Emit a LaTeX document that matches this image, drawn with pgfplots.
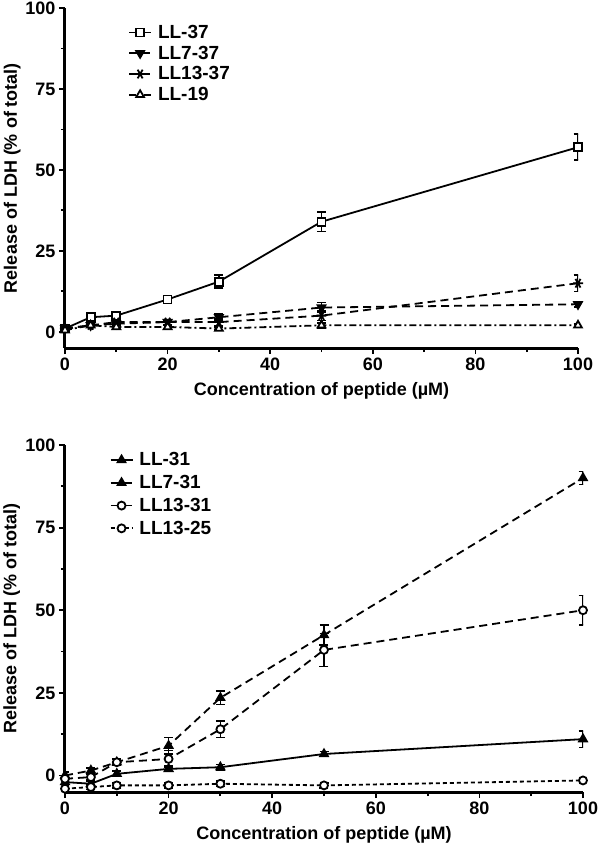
\documentclass[border=0pt]{standalone}
\usepackage{fontspec}
\setmainfont{Liberation Sans}
\usepackage{pgfplots}
\pgfplotsset{compat=1.18}
\begin{document}
\begin{tikzpicture}
\pgfplotsset{
  prism/.style={
    scale only axis,
    xmin=0, xmax=100, ymin=-5, ymax=100,
    axis x line*=bottom, axis y line*=left,
    axis line style={line width=3pt, -},
    tick align=outside,
    major tick length=6pt, minor tick length=4pt,
    tick style={line width=1.8pt, black},
    xtick={0,20,...,100}, minor xtick={10,30,50,70,90},
    ytick={0,25,50,75,100}, minor ytick={12.5,37.5,62.5,87.5},
    tick label style={font=\bfseries\fontsize{18}{18}\selectfont},
    /pgf/number format/assume math mode=true,
    every axis x label/.style={at={(axis description cs:0.5,0)}, anchor=center, yshift=-43pt,
      font=\bfseries\fontsize{18}{18}\selectfont},
    every axis y label/.style={at={(axis description cs:-0.103,0.5)}, anchor=center, rotate=90,
      font=\bfseries\fontsize{18}{18}\selectfont},
    xlabel={Concentration of peptide (µM)},
    ylabel={Release of LDH (\% of total)},
    legend style={draw=none, fill=none, font=\bfseries\fontsize{19}{19}\selectfont,
      row sep=2pt, column sep=4pt},
    legend cell align=left,
    legend image code/.code={\draw[mark repeat=2, mark phase=2] plot coordinates {(0pt,0pt) (11pt,0pt) (22pt,0pt)};},
    every axis plot/.append style={line width=1.8pt, black},
    error bars/y dir=both, error bars/y explicit,
    error bars/error bar style={line width=1.6pt, solid},
    error bars/error mark options={rotate=90, mark size=4.5pt, line width=1.6pt},
  },
  dsh/.style={dash pattern=on 8pt off 5pt},
}
\begin{axis}[prism, width=513pt, height=340pt,
  legend style={at={(0.117,0.962)}, anchor=north west}]
\addplot[mark=square*, mark size=4pt, mark options={fill=white, solid}] coordinates {
  (0,1) +- (0,0.8) (5,4.5) +- (0,0.8) (10,5) +- (0,0.8) (20,10) +- (0,1)
  (30,15.5) +- (0,2) (50,34) +- (0,3) (100,57) +- (0,4)};
\addlegendentry{LL-37}
\addplot[dsh, mark=triangle*, mark size=4.5pt, mark options={rotate=180, solid}] coordinates {
  (0,1) +- (0,0.5) (5,2) +- (0,0.5) (10,2.5) +- (0,0.5) (20,3) +- (0,0.8)
  (30,4.5) +- (0,1) (50,7.5) +- (0,1.5) (100,8.5) +- (0,0.8)};
\addlegendentry{LL7-37}
\addplot[dsh, mark=asterisk, mark size=5pt, mark options={rotate=90, solid}] coordinates {
  (0,1) +- (0,0.5) (5,2) +- (0,0.5) (10,3) +- (0,0.5) (20,3) +- (0,0.8)
  (30,3) +- (0,1) (50,5) +- (0,1.5) (100,15) +- (0,2.5)};
\addlegendentry{LL13-37}
\addplot[dash pattern=on 7pt off 3pt on 2pt off 3pt, mark=triangle*, mark size=4.5pt, mark options={fill=white, solid}] coordinates {
  (0,0.5) +- (0,0.5) (5,2) +- (0,0.5) (10,1.5) +- (0,0.5) (20,1.5) +- (0,0.5)
  (30,1) +- (0,0.5) (50,2) +- (0,0.8) (100,2) +- (0,0.5)};
\addlegendentry{LL-19}
\end{axis}

\begin{axis}[prism, width=518pt, height=347pt, at={(0pt,-444pt)},
  legend style={at={(0.08,0.99)}, anchor=north west, row sep=4pt}]
\addplot[mark=triangle*, mark size=4.5pt] coordinates {
  (0,-2) +- (0,0.8) (5,-2.5) +- (0,0.8) (10,0.5) +- (0,0.8) (20,2) +- (0,0.8)
  (30,2.5) +- (0,0.8) (50,6.5) +- (0,0.8) (100,11) +- (0,2.5)};
\addlegendentry{LL-31}
\addplot[dsh, mark=triangle*, mark size=4.5pt, mark options={solid}] coordinates {
  (0,0) +- (0,1) (5,1.5) +- (0,0.8) (10,4) +- (0,1) (20,9) +- (0,2.5)
  (30,23.5) +- (0,2) (50,42.5) +- (0,3) (100,90) +- (0,2)};
\addlegendentry{LL7-31}
\addplot[dsh, mark=*, mark size=4pt, mark options={fill=white, solid}] coordinates {
  (0,-1) +- (0,1) (5,-0.5) +- (0,0.8) (10,4) +- (0,1) (20,5) +- (0,2.5)
  (30,14) +- (0,2.5) (50,38) +- (0,5) (100,50) +- (0,4.5)};
\addlegendentry{LL13-31}
\addplot[dash pattern=on 4pt off 3pt, mark=*, mark size=4pt, mark options={fill=white, solid}] coordinates {
  (0,-4) +- (0,0.8) (5,-3.5) +- (0,0.8) (10,-3) +- (0,0.8) (20,-3) +- (0,0.8)
  (30,-2.5) +- (0,0.8) (50,-3) +- (0,0.8) (100,-1.5) +- (0,0.8)};
\addlegendentry{LL13-25}
\end{axis}
\pgfresetboundingbox
\path (-65pt,-499pt) rectangle (535pt,348pt);
\end{tikzpicture}
\end{document}
